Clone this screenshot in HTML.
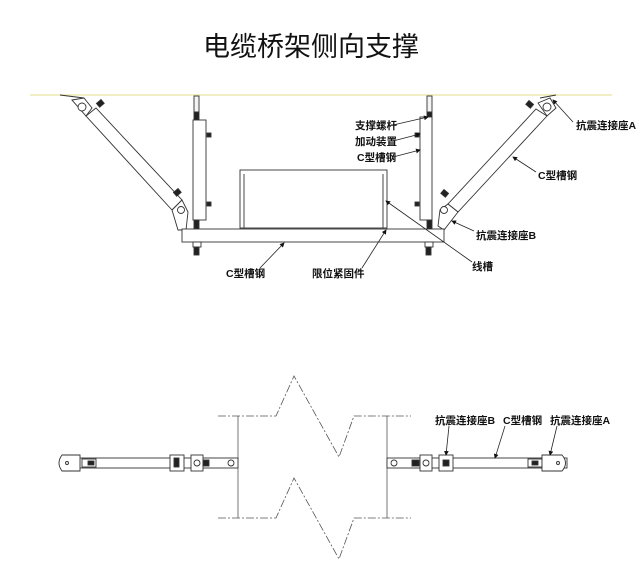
<!DOCTYPE html>
<html><head><meta charset="utf-8"><style>
body{margin:0;background:#fff}
svg{display:block}
text{font-family:"Liberation Sans","Noto Sans CJK SC",sans-serif;fill:#111}
.l{font-size:10.5px;font-weight:bold}
</style></head><body>
<svg width="640" height="578" viewBox="0 0 640 578" xmlns="http://www.w3.org/2000/svg">
<defs><marker id="a" markerWidth="6" markerHeight="6" refX="5" refY="3" orient="auto"><path d="M0,0 L6,3 L0,6 z" fill="#111"/></marker></defs>
<text x="311" y="56" font-size="27" text-anchor="middle">电缆桥架侧向支撑</text>
<line x1="30" y1="95" x2="612" y2="95" stroke="#eee9b0" stroke-width="1.5"/>
<g stroke="#333" stroke-width="0.9" fill="#fff">
<!-- left brace -->
<line x1="60" y1="95" x2="84" y2="98"/>
<path d="M72,100 L84,98 L92,108 L86,116 Z"/>
<circle cx="82" cy="107" r="4"/>
<path d="M86,116 L96,108 L182,200 L172,210 Z"/>
<path d="M172,210 L182,200 L188,212 L186,230 L178,230 Z"/>
<circle cx="181" cy="210" r="3.5"/>
<rect x="97" y="101" width="6" height="5" fill="#222" transform="rotate(-40 100 103)"/>
<rect x="174" y="190" width="6" height="5" fill="#222" transform="rotate(-40 177 192)"/>
<!-- right brace -->
<line x1="540" y1="98" x2="556" y2="95"/>
<path d="M538,103 L550,98 L556,108 L547,116 Z"/>
<circle cx="547" cy="107" r="4"/>
<path d="M536,109 L547,116 L458,212 L448,204 Z"/>
<path d="M448,204 L458,212 L444,230 L438,226 L440,210 Z"/>
<circle cx="444" cy="210" r="3.5"/>
<rect x="527" y="102" width="6" height="5" fill="#222" transform="rotate(40 530 104)"/>
<rect x="442" y="191" width="6" height="5" fill="#222" transform="rotate(40 445 193)"/>
<!-- vertical rods -->
<rect x="194" y="96" width="5" height="16" fill="#f4f4f4"/>
<rect x="194" y="112" width="5" height="8" fill="#222"/>
<rect x="193" y="120" width="13" height="100"/>
<rect x="194" y="220" width="5" height="10" fill="#222"/>
<rect x="207" y="133" width="4" height="4" fill="#222"/>
<rect x="207" y="202" width="4" height="4" fill="#222"/>
<rect x="427" y="96" width="5" height="16" fill="#f4f4f4"/>
<rect x="427" y="112" width="5" height="8" fill="#222"/>
<rect x="420" y="117" width="12" height="103"/>
<rect x="427" y="220" width="5" height="10" fill="#222"/>
<rect x="415" y="133" width="4" height="4" fill="#222"/>
<rect x="415" y="202" width="4" height="4" fill="#222"/>
<!-- tray -->
<rect x="240" y="170" width="147" height="58"/>
<line x1="244" y1="174" x2="244" y2="228"/>
<line x1="383" y1="174" x2="383" y2="228"/>
<!-- beam -->
<rect x="182" y="229" width="262" height="13"/>
<rect x="193" y="242" width="8" height="5"/>
<rect x="194" y="247" width="5" height="8" fill="#222"/>
<rect x="425" y="242" width="8" height="5"/>
<rect x="426" y="247" width="5" height="8" fill="#222"/>
</g>
<g stroke="#222" stroke-width="0.8" fill="none">
<line x1="393" y1="125" x2="428" y2="117" marker-end="url(#a)"/>
<line x1="393" y1="141" x2="420" y2="134" marker-end="url(#a)"/>
<line x1="393" y1="157" x2="420" y2="150" marker-end="url(#a)"/>
<line x1="573" y1="122" x2="553" y2="100" marker-end="url(#a)"/>
<line x1="536" y1="172" x2="513" y2="157" marker-end="url(#a)"/>
<line x1="474" y1="231" x2="452" y2="221" marker-end="url(#a)"/>
<line x1="472" y1="262" x2="386" y2="201" marker-end="url(#a)"/>
<line x1="362" y1="268" x2="386" y2="230" marker-end="url(#a)"/>
<line x1="260" y1="268" x2="284" y2="243" marker-end="url(#a)"/>
</g>
<text class="l" x="355" y="129">支撑螺杆</text>
<text class="l" x="355" y="145">加动装置</text>
<text class="l" x="357" y="161">C型槽钢</text>
<text class="l" x="576" y="129">抗震连接座A</text>
<text class="l" x="538" y="179">C型槽钢</text>
<text class="l" x="476" y="239">抗震连接座B</text>
<text class="l" x="472" y="270">线槽</text>
<text class="l" x="312" y="277">限位紧固件</text>
<text class="l" x="226" y="277">C型槽钢</text>
<!-- bottom -->
<g stroke="#555" stroke-width="0.8" fill="none">
<path d="M218,416 H276 L294,376 L339,457 L354,416 H411" stroke-dasharray="8,2,2,2"/>
<path d="M218,518 H276 L294,478 L339,559 L354,518 H411" stroke-dasharray="8,2,2,2"/>
<line x1="238" y1="416" x2="238" y2="518"/>
<line x1="387" y1="416" x2="387" y2="518"/>
</g>
<g stroke="#333" stroke-width="0.9" fill="#fff">
<rect x="80" y="458" width="158" height="10"/>
<path d="M62,455 H80 V471 H62 Q56,463 62,455 Z"/><circle cx="67" cy="463" r="1.5"/>
<rect x="82" y="459" width="14" height="8"/><rect x="88" y="461" width="6" height="4" fill="#222"/>
<rect x="170" y="455" width="14" height="16"/><rect x="174" y="458" width="5" height="9" fill="#222"/>
<rect x="191" y="455" width="12" height="16"/><circle cx="197" cy="463" r="3"/>
<rect x="203" y="460" width="6" height="6" fill="#222"/>
<circle cx="231" cy="463" r="3"/>
<rect x="387" y="458" width="180" height="10"/>
<circle cx="394" cy="463" r="3"/>
<rect x="420" y="455" width="12" height="16"/><circle cx="426" cy="463" r="3"/>
<rect x="412" y="460" width="7" height="6" fill="#222"/>
<rect x="439" y="455" width="14" height="16"/><rect x="443" y="460" width="6" height="6" fill="#222"/>
<rect x="528" y="459" width="14" height="8"/><rect x="532" y="461" width="6" height="4" fill="#222"/>
<path d="M542,455 H562 Q569,463 562,471 H542 Z"/><circle cx="558" cy="463" r="1.5"/>
</g>
<g stroke="#222" stroke-width="0.8" fill="none">
<line x1="449" y1="426" x2="446" y2="455" marker-end="url(#a)"/>
<line x1="505" y1="426" x2="495" y2="458" marker-end="url(#a)"/>
<line x1="557" y1="426" x2="550" y2="455" marker-end="url(#a)"/>
</g>
<text class="l" x="435" y="424">抗震连接座B</text>
<text class="l" x="503" y="424">C型槽钢</text>
<text class="l" x="550" y="424">抗震连接座A</text>
</svg>
</body></html>
